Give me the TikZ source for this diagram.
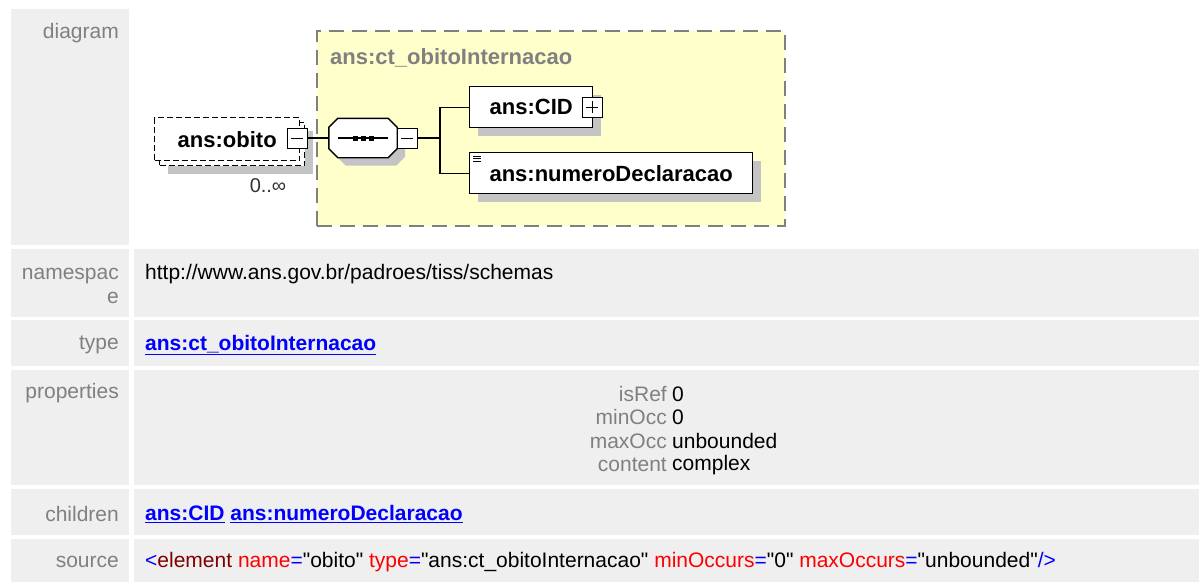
\documentclass[tikz,border=0pt]{standalone}
\usepackage{fontspec}
\newfontfamily\docfont{Liberation Sans}
\usetikzlibrary{positioning, calc, shadows}

\definecolor{cellgrey}{HTML}{EFEFEF}
\definecolor{lblgrey}{HTML}{808080}
\definecolor{typeyellow}{HTML}{FFFFCC}
\definecolor{shadowgrey}{HTML}{C4C4C4}
\definecolor{linkblue}{HTML}{0000FF}
\definecolor{tagred}{HTML}{800000}
\definecolor{attred}{HTML}{FF0000}

\begin{document}
\begin{tikzpicture}[
    x=1pt, y=-1pt,
    lbl/.style={anchor=east, inner sep=0pt, text=lblgrey, align=right,
        font=\docfont\fontsize{21}{24}\selectfont},
    val/.style={anchor=west, inner sep=0pt,
        font=\docfont\fontsize{21}{24}\selectfont},
    link/.style={val, text=linkblue,
        font=\docfont\fontsize{21}{24}\selectfont\bfseries},
    shade/.style={general shadow={fill=shadowgrey, shadow xshift=8pt, shadow yshift=-8pt}},
    elem/.style={draw, line width=1.4pt, fill=white, anchor=north west,
        minimum height=41pt, inner sep=0pt,
        font=\docfont\fontsize{22}{24}\selectfont\bfseries},
    optelem/.style={elem, minimum height=43pt, minimum width=145pt,
        dash pattern=on 6pt off 3pt},
    toggle/.style={draw, line width=1pt, fill=white, minimum size=20pt, inner sep=0pt},
    minus/.style={toggle, path picture={
        \draw[line width=1pt] ($(path picture bounding box.west)+(4pt,0)$) -- ++(12pt,0);}},
    plus/.style={toggle, path picture={
        \draw[line width=1pt] ($(path picture bounding box.west)+(4pt,0)$) -- ++(12pt,0);
        \draw[line width=1pt] ($(path picture bounding box.south)+(0,4pt)$) -- ++(0,12pt);}},
    conn/.style={line width=1.4pt}
]
\useasboundingbox (0,0) rectangle (1199,582);

% --- Celdas de la tabla ---
\fill[cellgrey] (11,9) rectangle (129,245);
\fill[cellgrey] (11,249) rectangle (129,317);
\fill[cellgrey] (134,249) rectangle (1199,317);
\fill[cellgrey] (11,320) rectangle (129,366);
\fill[cellgrey] (134,320) rectangle (1199,366);
\fill[cellgrey] (11,370) rectangle (129,485);
\fill[cellgrey] (134,370) rectangle (1199,485);
\fill[cellgrey] (11,489) rectangle (129,535);
\fill[cellgrey] (134,489) rectangle (1199,535);
\fill[cellgrey] (11,539) rectangle (129,582);
\fill[cellgrey] (134,539) rectangle (1199,582);

% --- Etiquetas ---
\node[lbl] (ldiagram) at (119,33) {diagram};
\node[lbl] (lnamespace) at (119,286) {namespac\\e};
\node[lbl] (ltype) at (119,345) {type};
\node[lbl] (lproperties) at (119,393) {properties};
\node[lbl] (lchildren) at (119,514) {children};
\node[lbl] (lsource) at (119,562) {source};

% --- Tipo complejo ---
\node[draw=lblgrey, fill=typeyellow, line width=1.6pt, dash pattern=on 15pt off 8pt,
    anchor=north west, minimum width=468pt, minimum height=195pt, inner sep=0pt]
    (ctbox) at (316,30) {};
\node[anchor=west, inner sep=0pt, text=lblgrey, font=\docfont\fontsize{22}{24}\selectfont\bfseries]
    (cttitle) at (330,58) {ans:ct\_obitoInternacao};

% --- Elemento obito ---
\node[optelem, shade] (obitoback) at (159,122) {};
\node[optelem] (obito) at (154,117) {ans:obito\hspace{20pt}};
\node[minus] (obitominus) at (297,138) {};
\node[inner sep=0pt, text=black!80, font=\docfont\fontsize{20}{22}\selectfont]
    (obitoocc) at (268,186) {0..∞};

% --- Secuencia ---
\node[minimum width=68pt, minimum height=39pt, inner sep=0pt] (seq) at (363,138) {};
\draw[line width=1.4pt, fill=white, shade]
    ($(seq.north west)+(9,0)$) -- ($(seq.north east)+(-9,0)$)
    -- ($(seq.north east)+(0,9)$) -- ($(seq.south east)+(0,-9)$)
    -- ($(seq.south east)+(-9,0)$) -- ($(seq.south west)+(9,0)$)
    -- ($(seq.south west)+(0,-9)$) -- ($(seq.north west)+(0,9)$) -- cycle;
\draw[line width=1.4pt] ($(seq.center)+(-25,0)$) -- ($(seq.center)+(25,0)$);
\foreach \dx in {-8,0,8}
    \fill ($(seq.center)+(\dx,0)$) +(-2.5,-2.5) rectangle +(2.5,2.5);
\node[minus] (seqminus) at (407,138) {};
\coordinate (fork) at (440,138);

% --- Hijos ---
\node[elem, shade, minimum width=123pt] (cid) at (469,86) {ans:CID\hspace{14pt}};
\node[plus] (cidplus) at (592,107) {};
\node[elem, shade, minimum width=283pt] (numero) at (469,152) {ans:numeroDeclaracao};
\foreach \dy in {4,6.5,9}
    \draw[line width=0.9pt] ($(numero.north west)+(4,\dy)$) -- ++(8,0);

% --- Conectores ---
\draw[conn] (obitominus) -- (seq);
\draw[conn] (seqminus) -- (fork);
\draw[conn] (cid.west) -| (fork) |- (numero.west);

% --- Valores ---
\node[val] (vnamespace) at (145,274) {http://www.ans.gov.br/padroes/tiss/schemas};
\node[link] (vtype) at (145,345) {\underline{ans:ct\_obitoInternacao}};

\foreach \k/\v/\y in {isRef/0/394, minOcc/0/417, maxOcc/unbounded/441, content/complex/465}{
    \node[lbl] (k\k) at (667,\y) {\k};
    \node[val] (v\k) at (672,\y) {\v};
}

\node[link] (vchildren) at (145,514) {\underline{ans:CID} \underline{ans:numeroDeclaracao}};
\node[val] (vsource) at (145,562) {{\color{linkblue}<}{\color{tagred}element}
    {\color{attred}name}{\color{linkblue}=}"obito"
    {\color{attred}type}{\color{linkblue}=}"ans:ct\_obitoInternacao"
    {\color{attred}minOccurs}{\color{linkblue}=}"0"
    {\color{attred}maxOccurs}{\color{linkblue}=}"unbounded"{\color{linkblue}/>}};

\end{tikzpicture}
\end{document}
